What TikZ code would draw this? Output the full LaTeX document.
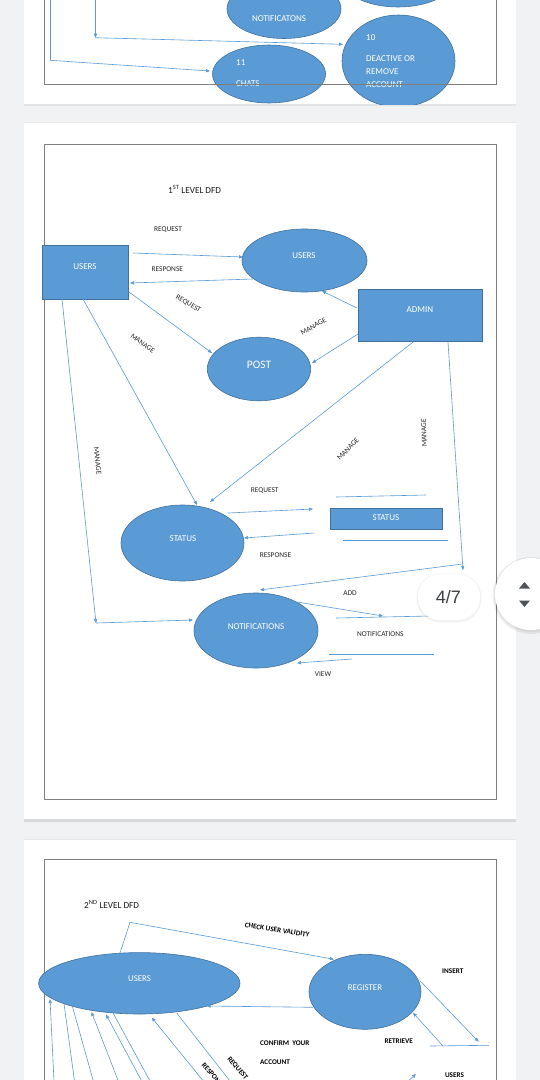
\documentclass[tikz,border=0pt]{standalone}
\usepackage{fontspec}
\setmainfont{Carlito}
\newfontfamily\uifont{Liberation Sans}
\usetikzlibrary{arrows.meta,shapes.geometric}
\definecolor{bgG}{HTML}{F1F2F4}
\definecolor{blueF}{HTML}{5B9BD5}
\definecolor{blueD}{HTML}{41719C}
\definecolor{lineB}{HTML}{5B9BD5}
\definecolor{frameG}{HTML}{7F7F7F}
\definecolor{shadowG}{HTML}{D8D9DB}
\definecolor{uiT}{HTML}{3C4043}
\begin{document}
\begin{tikzpicture}[x=1pt,y=-1pt,
 proc/.style={ellipse,draw=blueD,fill=blueF,line width=0.6pt,inner sep=0pt},
 ent/.style={rectangle,draw=blueD,fill=blueF,line width=0.5pt,inner sep=0pt},
 flow/.style={draw=lineB,line width=0.6pt,-{Triangle[length=4pt,width=3.2pt]}},
 plain/.style={draw=lineB,line width=0.6pt},
 wt/.style={text=white,font=\fontsize{9}{10}\selectfont,inner sep=0pt},
 lbl/.style={text=black!85,font=\fontsize{7.4}{8}\selectfont,inner sep=0pt},
 blbl/.style={text=black,font=\bfseries\fontsize{7.2}{8}\selectfont,inner sep=0pt},
 ttl/.style={text=black!90,font=\fontsize{9.2}{10}\selectfont,inner sep=0pt,anchor=west},
 frame/.style={draw=frameG,line width=0.8pt}
]
\useasboundingbox (0,0) rectangle (540,1080);
\clip (0,0) rectangle (540,1080);
\fill[bgG] (0,0) rectangle (540,1080);

% ================= page 1 =================
\fill[white] (24,0) rectangle (516,104);
\fill[shadowG!70] (24,104) rectangle (516,105.5);
\begin{scope}
\clip (24,0) rectangle (516,104);
\node[proc,minimum width=114pt,minimum height=59pt] (n9) at (284,9) {};
\node[wt] (n9t) at (279,19) {NOTIFICATONS};
\node[proc,minimum width=114pt,minimum height=58pt] (nx) at (398,-22) {};
\node[proc,minimum width=113pt,minimum height=92pt] (n10) at (398.5,61) {};
\node[wt,anchor=west] (n10a) at (366,38) {10};
\node[wt,anchor=west] (n10b) at (366,59) {DEACTIVE OR};
\node[wt,anchor=west] (n10c) at (366,72) {REMOVE};
\node[wt,anchor=west] (n10d) at (366,85) {ACCOUNT};
\node[proc,minimum width=113pt,minimum height=58pt] (n11) at (269,74) {};
\node[wt,anchor=west] (n11a) at (236,63) {11};
\node[wt,anchor=west] (n11b) at (236,84) {CHATS};
\coordinate (a1) at (95.5,-2);
\coordinate (a2) at (95.5,37.7);
\coordinate (a3) at (343,44.3);
\coordinate (b1) at (50,-2);
\coordinate (b2) at (50,60.3);
\coordinate (b3) at (210,71);
\draw[flow] (a1) -- (a2);
\draw[flow] (a2) -- (a3);
\draw[plain] (b1) -- (b2);
\draw[flow] (b2) -- (b3);
\draw[frame] (44,-2) -- (44,84) -- (496.5,84) -- (496.5,-2);
\end{scope}

% ================= page 2 =================
\fill[shadowG!60] (24,121.5) rectangle (516,123);
\fill[white] (24,123) rectangle (516,819);
\fill[shadowG] (24,819) rectangle (516,821.5);
\draw[frame] (44,144) rectangle (496.5,799);

\node[ttl] (t1) at (168,189) {1\textsuperscript{ST} LEVEL DFD};

\node[ent,minimum width=86pt,minimum height=54pt] (ru) at (85,272) {};
\node[wt] (rut) at (85,267) {USERS};
\node[proc,minimum width=125pt,minimum height=63pt] (eu) at (304.5,260.5) {};
\node[wt] (eut) at (304,256) {USERS};
\node[ent,minimum width=124pt,minimum height=52pt] (ad) at (420,315) {};
\node[wt] (adt) at (420,310) {ADMIN};
\node[proc,minimum width=103.4pt,minimum height=63.6pt] (po) at (259,369) {};
\node[wt,font=\fontsize{11.4}{12}\selectfont] (pot) at (259,364.5) {POST};
\node[proc,minimum width=123pt,minimum height=76pt] (st) at (182.5,543) {};
\node[wt] (stt) at (183,539) {STATUS};
\node[ent,minimum width=112pt,minimum height=21pt] (ss) at (386,518.5) {};
\node[wt] (sst) at (386,517.5) {STATUS};
\node[proc,minimum width=124pt,minimum height=75pt] (nt) at (256,630.5) {};
\node[wt] (ntt) at (256,627) {NOTIFICATIONS};

\node[lbl] (l1) at (168,230) {REQUEST};
\node[lbl] (l2) at (167.3,269) {RESPONSE};
\node[lbl,rotate=-30] (l3) at (188.3,304) {REQUEST};
\node[lbl,rotate=-36] (l4) at (142.7,343.3) {MANAGE};
\node[lbl,rotate=29] (l5) at (313.3,326.3) {MANAGE};
\node[lbl,rotate=-84] (l6) at (97.7,460.7) {MANAGE};
\node[lbl,rotate=45] (l7) at (348,449) {MANAGE};
\node[lbl,rotate=92] (l8) at (424,433) {MANAGE};
\node[lbl] (l9) at (264.7,491) {REQUEST};
\node[lbl] (l10) at (275.5,555) {RESPONSE};
\node[lbl] (l11) at (350,593) {ADD};
\node[lbl] (l12) at (380.3,633.7) {NOTIFICATIONS};
\node[lbl] (l13) at (323,674) {VIEW};

\coordinate (c1) at (133,253);   \coordinate (c2) at (243,257);
\coordinate (c3) at (253,279);   \coordinate (c4) at (130,283);
\coordinate (c5) at (129,292);   \coordinate (c6) at (212,353);
\coordinate (c7) at (357,308);   \coordinate (c8) at (322,291);
\coordinate (c9) at (358,334);   \coordinate (c10) at (312,363);
\coordinate (c11) at (62,299);   \coordinate (c12) at (96,623);
\coordinate (c13) at (193,620);
\coordinate (c14) at (83,299);   \coordinate (c15) at (197,505);
\coordinate (c16) at (413,342);  \coordinate (c17) at (210,502);
\coordinate (c18) at (448,342);  \coordinate (c19) at (463,570);
\coordinate (c20) at (462.3,564);\coordinate (c21) at (260,590);
\coordinate (c22) at (228,513);  \coordinate (c23) at (313,509);
\coordinate (c24) at (314,533);  \coordinate (c25) at (244,538);
\coordinate (c26) at (297,602);  \coordinate (c27) at (383,616);
\coordinate (c28) at (352,659);  \coordinate (c29) at (297,663);
\coordinate (s1a) at (336,497);  \coordinate (s1b) at (426,495);
\coordinate (s2a) at (343,540);  \coordinate (s2b) at (448,540);
\coordinate (s3a) at (336,618);  \coordinate (s3b) at (430,616);
\coordinate (s4a) at (329,654);  \coordinate (s4b) at (434,654);

\draw[flow] (c1) -- (c2);
\draw[flow] (c3) -- (c4);
\draw[flow] (c5) -- (c6);
\draw[flow] (c7) -- (c8);
\draw[flow] (c9) -- (c10);
\draw[flow] (c11) -- (c12);
\draw[flow] (c12) -- (c13);
\draw[flow] (c14) -- (c15);
\draw[flow] (c16) -- (c17);
\draw[flow] (c18) -- (c19);
\draw[flow] (c20) -- (c21);
\draw[flow] (c22) -- (c23);
\draw[flow] (c24) -- (c25);
\draw[flow] (c26) -- (c27);
\draw[flow] (c28) -- (c29);
\draw[plain] (s1a) -- (s1b);
\draw[plain] (s2a) -- (s2b);
\draw[plain] (s3a) -- (s3b);
\draw[plain] (s4a) -- (s4b);

% ================= page 3 =================
\fill[shadowG!60] (24,838.5) rectangle (516,840);
\fill[white] (24,840) rectangle (516,1080);
\begin{scope}
\clip (24,840) rectangle (516,1080);
\draw[frame] (44,1082) -- (44,859) -- (496.5,859) -- (496.5,1082);
\node[ttl] (t2) at (84,904.7) {2\textsuperscript{ND} LEVEL DFD};
\node[proc,minimum width=201.4pt,minimum height=61.4pt] (u3) at (139.3,983.3) {};
\node[wt,font=\fontsize{8.8}{10}\selectfont] (u3t) at (139.5,979) {USERS};
\node[proc,minimum width=112pt,minimum height=75pt] (rg) at (365,991.8) {};
\node[wt,font=\fontsize{8.8}{10}\selectfont] (rgt) at (365,987.7) {REGISTER};

\node[blbl,rotate=-9] (m1) at (277.2,930) {CHECK USER VALIDITY};
\node[blbl] (m2) at (452.8,970.7) {INSERT};
\node[blbl] (m3) at (398.8,1041) {RETRIEVE};
\node[blbl,anchor=west] (m4) at (260,1043.3) {CONFIRM\ \ YOUR};
\node[blbl,anchor=west] (m5) at (260,1062) {ACCOUNT};
\node[blbl] (m6) at (454.5,1075) {USERS};
\node[blbl,rotate=-49] (m7) at (237.5,1068.3) {REQUEST};
\node[blbl,rotate=-49,anchor=west] (m8) at (203,1064) {RESPONSE};

\coordinate (d1) at (120,953);     \coordinate (d2) at (130,922.3);
\coordinate (d3) at (334,959.3);
\coordinate (d4) at (420,980.7);   \coordinate (d5) at (478.6,1041.7);
\coordinate (d6) at (443,1046);    \coordinate (d7) at (413,1012.7);
\coordinate (d8) at (313,1007.3);  \coordinate (d9) at (206.6,1006);
\coordinate (d10) at (408.3,1081); \coordinate (d11) at (416,1074);
\coordinate (sx1) at (430,1046);   \coordinate (sx2) at (489,1045.3);
\draw[plain] (d1) -- (d2);
\draw[flow] (d2) -- (d3);
\draw[flow] (d4) -- (d5);
\draw[plain] (sx1) -- (sx2);
\draw[flow] (d6) -- (d7);
\draw[flow] (d8) -- (d9);
\draw[flow] (d10) -- (d11);

\coordinate (e1a) at (54,1081);    \coordinate (e1b) at (50,999);
\coordinate (e2a) at (74.5,1081);  \coordinate (e2b) at (64,1003.5);
\coordinate (e3a) at (93.3,1081);  \coordinate (e3b) at (72.3,1006);
\coordinate (e4a) at (118.3,1081); \coordinate (e4b) at (91.5,1012);
\coordinate (e5a) at (141.7,1081); \coordinate (e5b) at (106,1014.5);
\coordinate (e6a) at (150,1081);   \coordinate (e6b) at (113.3,1013.5);
\coordinate (e7a) at (203.3,1081); \coordinate (e7b) at (151.7,1017.5);
\coordinate (e8a) at (230,1081);   \coordinate (e8b) at (176.7,1013);
\draw[flow] (e1a) -- (e1b);
\draw[plain] (e2a) -- (e2b);
\draw[plain] (e3a) -- (e3b);
\draw[flow] (e4a) -- (e4b);
\draw[flow] (e5a) -- (e5b);
\draw[plain] (e6a) -- (e6b);
\draw[flow] (e7a) -- (e7b);
\draw[plain] (e8a) -- (e8b);
\end{scope}

% ================= viewer overlay =================
\fill[black,opacity=0.05,rounded corners=24pt] (416.5,573.5) rectangle (481.5,622.5);
\node[fill=white,rounded corners=22.5pt,minimum width=62pt,minimum height=46pt,inner sep=0pt] (badge) at (449,597) {};
\node[text=uiT,font=\uifont\fontsize{18}{20}\selectfont,inner sep=0pt] (badget) at (448.3,597.3) {4/7};

\fill[black,opacity=0.06] (531,595.5) circle (38.5pt);
\fill[black,opacity=0.05] (531,595) circle (37.2pt);
\node[circle,fill=white,minimum size=72pt,inner sep=0pt] (scr) at (531,594) {};
\fill[uiT!90] (519,588.5) -- (530,588.5) -- (524.5,582) -- cycle;
\fill[uiT!90] (519,600.5) -- (530,600.5) -- (524.5,607) -- cycle;
\end{tikzpicture}
\end{document}
